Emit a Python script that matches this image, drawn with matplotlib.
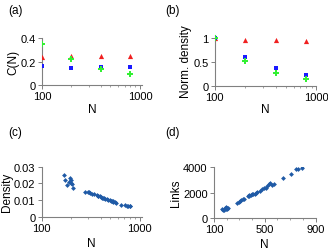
import matplotlib
matplotlib.use("Agg")
import matplotlib.pyplot as plt
from matplotlib.ticker import FixedLocator, FixedFormatter, NullFormatter

plt.rcParams["font.family"] = ["Liberation Sans", "DejaVu Sans"]
plt.rcParams["font.size"] = 8.5
plt.rcParams["xtick.labelsize"] = 8
plt.rcParams["ytick.labelsize"] = 8

# (a) clustering vs N, (b) normalised density vs N
sizes = [100, 200, 400, 800]
c_red = [0.243, 0.25, 0.25, 0.25]
c_blue = [0.163, 0.143, 0.151, 0.151]
c_green = [0.349, 0.226, 0.14, 0.091]
nd_red = [1.0, 0.948, 0.95, 0.935]
nd_blue = [1.0, 0.588, 0.36, 0.222]
nd_green = [1.0, 0.51, 0.268, 0.144]

# (c) density and (d) links of individual networks
net_n = [168, 175, 180, 190, 195, 198, 200, 205, 210, 280, 295, 305, 315, 330,
         340, 365, 375, 380, 390, 400, 410, 420, 430, 440, 460, 480, 495, 510,
         520, 530, 540, 555, 570, 645, 705, 750, 760, 790, 795]
net_links = [700, 620, 650, 760, 820, 700, 780, 730, 760, 1200, 1280, 1330, 1370,
             1450, 1480, 1700, 1760, 1820, 1780, 1850, 1920, 1900, 2000, 2050,
             2100, 2300, 2350, 2400, 2550, 2650, 2750, 2600, 2700, 3130, 3470,
             3850, 3900, 3950, 4100]
net_density = [0.0250, 0.0220, 0.0190, 0.0210, 0.0230, 0.0200, 0.0220, 0.0195,
               0.0172, 0.0148, 0.0146, 0.0145, 0.0142, 0.0138, 0.0135, 0.0130,
               0.0126, 0.0125, 0.0122, 0.0118, 0.0115, 0.0112, 0.0110, 0.0108,
               0.0104, 0.0100, 0.0098, 0.0094, 0.0093, 0.0092, 0.0090, 0.0087,
               0.0084, 0.0072, 0.0068, 0.0066, 0.0064, 0.0063, 0.0062]

RED = "#f02020"
BLUE = "#1a1aff"
GREEN = "#33f033"
DOT = "#1f5aa6"
SPINE = "#808080"

fig = plt.figure(figsize=(3.28, 2.53), dpi=100)


def style(ax):
    for side in ("top", "right"):
        ax.spines[side].set_visible(False)
    for side in ("left", "bottom"):
        ax.spines[side].set_color(SPINE)
        ax.spines[side].set_linewidth(0.8)
    ax.tick_params(which="both", direction="out", color=SPINE, pad=1.5)
    ax.tick_params(which="major", length=3, width=0.7)
    ax.tick_params(which="minor", length=1.5, width=0.5)


def log_x(ax, hi):
    ax.set_xscale("log")
    ax.set_xlim(100, hi)
    ax.xaxis.set_major_locator(FixedLocator([100, 1000]))
    ax.xaxis.set_minor_locator(FixedLocator(range(200, 1000, 100)))
    ax.xaxis.set_major_formatter(FixedFormatter(["100", "1000"]))
    ax.xaxis.set_minor_formatter(NullFormatter())


# (a)
ax = fig.add_axes([0.128, 0.660, 0.305, 0.185])
style(ax)
ax.scatter(sizes, c_red, marker="^", s=14, color=RED, lw=0, zorder=3)
ax.scatter(sizes, c_blue, marker="s", s=10, color=BLUE, lw=0, zorder=3)
ax.scatter(sizes, c_green, marker="P", s=14, color=GREEN, lw=0, zorder=3)
log_x(ax, 1050)
ax.set_ylim(0, 0.4)
ax.set_yticks([0, 0.2, 0.4])
ax.set_yticklabels(["0", "0.2", "0.4"])
ax.set_xlabel("N", labelpad=1)
ax.set_ylabel("C(N)", labelpad=1)

# (b)
ax = fig.add_axes([0.655, 0.657, 0.309, 0.20])
style(ax)
ax.scatter(sizes, nd_red, marker="^", s=14, color=RED, lw=0, zorder=3)
ax.scatter(sizes, nd_blue, marker="s", s=10, color=BLUE, lw=0, zorder=3)
ax.scatter(sizes, nd_green, marker="P", s=14, color=GREEN, lw=0, zorder=3)
log_x(ax, 1000)
ax.set_ylim(0, 1.05)
ax.set_yticks([0, 0.5, 1])
ax.set_yticklabels(["0", "0.5", "1"])
ax.set_xlabel("N", labelpad=1)
ax.set_ylabel("Norm. density", labelpad=1)

# (c)
ax = fig.add_axes([0.127, 0.1395, 0.305, 0.198])
style(ax)
ax.scatter(net_n, net_density, marker="D", s=6, color=DOT, lw=0, zorder=3)
log_x(ax, 1050)
ax.set_ylim(0, 0.03)
ax.set_yticks([0, 0.01, 0.02, 0.03])
ax.set_yticklabels(["0", "0.01", "0.02", "0.03"])
ax.set_xlabel("N", labelpad=3)
ax.set_ylabel("Density", labelpad=1)

# (d)
ax = fig.add_axes([0.652, 0.1355, 0.31, 0.199])
style(ax)
ax.scatter(net_n, net_links, marker="D", s=6, color=DOT, lw=0, zorder=3)
ax.set_xlim(100, 900)
ax.set_xticks([100, 500, 900])
ax.xaxis.set_minor_locator(FixedLocator(range(200, 900, 100)))
ax.set_ylim(0, 4000)
ax.set_yticks([0, 2000, 4000])
ax.set_xlabel("N", labelpad=3)
ax.set_ylabel("Links", labelpad=1)

for label, x, y in [("(a)", 0.025, 0.955), ("(b)", 0.505, 0.955),
                    ("(c)", 0.025, 0.475), ("(d)", 0.505, 0.475)]:
    fig.text(x, y, label, fontsize=8.5, va="center")

fig.savefig("out.png", dpi=100)
